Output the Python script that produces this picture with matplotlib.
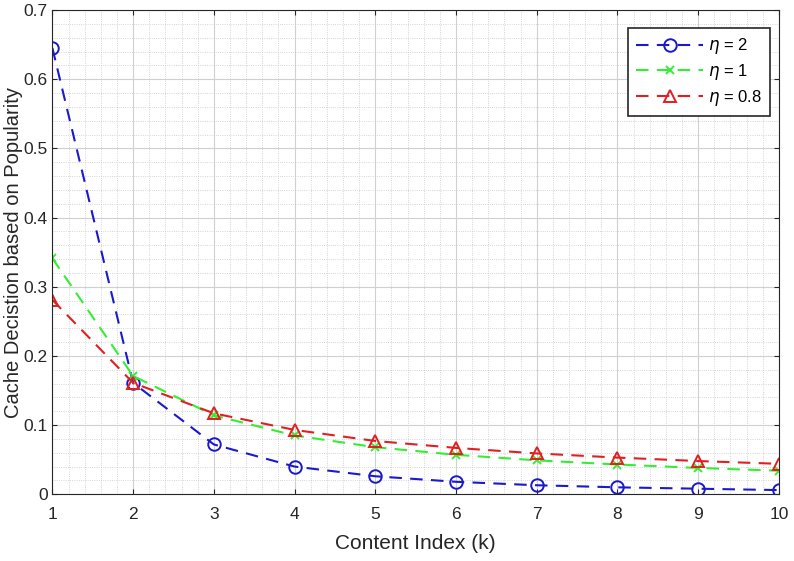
import numpy as np
import matplotlib.pyplot as plt
from matplotlib.ticker import MultipleLocator

plt.rcParams['font.family'] = ['Liberation Sans', 'DejaVu Sans']

# Данные
k = [1, 2, 3, 4, 5, 6, 7, 8, 9, 10]
eta2 = [0.645, 0.161, 0.072, 0.040, 0.026, 0.018, 0.013, 0.010, 0.008, 0.006]
eta1 = [0.341, 0.171, 0.114, 0.085, 0.068, 0.057, 0.049, 0.043, 0.038, 0.034]
eta08 = [0.281, 0.161, 0.117, 0.093, 0.077, 0.067, 0.059, 0.053, 0.048, 0.044]

fig = plt.figure(figsize=(7.94, 5.61), dpi=100)
ax = fig.add_axes([0.066, 0.119, 0.915, 0.863])

style = dict(mfc='none', lw=1.5, mew=1.4, dashes=(6, 4))
ax.plot(k, eta2, 'o', ls='--', color='#1a1acc', ms=9, label=r'$\eta$ = 2', **style)
ax.plot(k, eta1, 'x', ls='--', color='#33ee33', ms=6, label=r'$\eta$ = 1', **style)
ax.plot(k, eta08, '^', ls='--', color='#e02020', ms=9, label=r'$\eta$ = 0.8', **style)

ax.set_xlim(1, 10)
ax.set_ylim(0, 0.7)
ax.xaxis.set_major_locator(MultipleLocator(1))
ax.xaxis.set_minor_locator(MultipleLocator(0.2))
ax.yaxis.set_minor_locator(MultipleLocator(0.02))
ax.set_yticks(np.arange(0, 0.71, 0.1))
ax.set_yticklabels(['0', '0.1', '0.2', '0.3', '0.4', '0.5', '0.6', '0.7'])

ax.grid(True, which='major', color='#d0d0d0', lw=0.8)
ax.grid(True, which='minor', color='#c8c8c8', lw=0.6, ls=':')
ax.tick_params(which='both', direction='in', top=True, right=True, labelsize=12.5, colors='#262626')
ax.tick_params(which='minor', length=0)
ax.tick_params(axis='x', pad=9)
for s in ax.spines.values():
    s.set_color('#262626')

ax.set_xlabel('Content Index (k)', fontsize=15, color='#262626', labelpad=9)
ax.set_ylabel('Cache Decistion based on Popularity', fontsize=14.5, color='#262626')
ax.yaxis.set_label_coords(-0.04, 0.5)

leg = ax.legend(loc='upper right', bbox_to_anchor=(0.988, 0.963), borderaxespad=0,
                fontsize=12, fancybox=False, edgecolor='#262626', framealpha=1,
                handlelength=4, handletextpad=0.3, labelspacing=0.35, borderpad=0.5)
leg.get_frame().set_linewidth(1.2)

plt.savefig('out.png', dpi=100)
